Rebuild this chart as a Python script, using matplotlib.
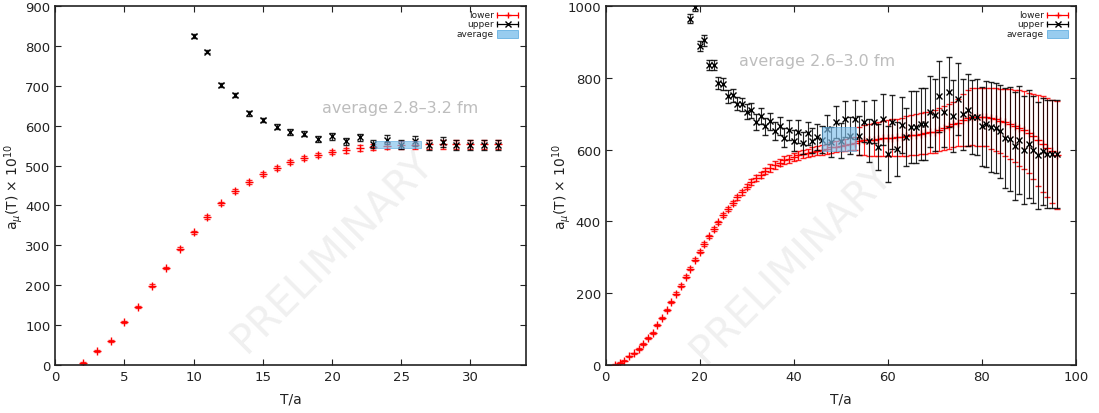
import numpy as np
import matplotlib.pyplot as plt
from matplotlib.patches import Rectangle

# ---- left panel: T/a = 2..32
T_lo_L = np.arange(2, 33)
lower_L = [5, 35, 60, 107, 146, 199, 243, 292, 333, 371, 405, 436, 459, 478, 493,
           508, 519, 527, 534, 538, 544, 547, 550, 552, 552, 553, 553, 553, 553, 553, 553]
lower_L_err = [2, 2, 3, 3, 3, 3, 3, 3, 4, 4, 4, 4, 4, 5, 5,
               5, 5, 5, 6, 6, 7, 8, 9, 10, 10, 11, 11, 12, 12, 12, 12]
T_up_L = np.arange(10, 33)
upper_L = [824, 786, 703, 676, 631, 614, 597, 584, 580, 567, 573, 561, 571,
           555, 565, 552, 561, 552, 559, 552, 552, 552, 552]
upper_L_err = [5, 5, 5, 5, 6, 6, 6, 7, 7, 8, 8, 9, 9,
               10, 11, 11, 12, 12, 13, 13, 13, 13, 13]
avg_L_T = [23.1, 26.4]
avg_L = 553
avg_L_err = 8

# ---- right panel: T/a = 2..96
T_lo_R = np.arange(2, 97)
lower_R = [0, 5, 12, 24, 32, 45, 58, 76, 90, 112, 131, 154, 175, 199, 221, 246, 268, 293, 316,
           337, 358, 379, 397, 417, 435, 452, 467, 481, 497, 509, 520, 530, 540, 549, 557, 564,
           570, 575, 580, 584, 588, 591, 594, 597, 600, 603, 606, 608, 611, 613, 615, 618,
           624, 626, 627, 628, 630, 631, 632, 633, 634, 636, 638, 640, 642, 644, 646, 648,
           650, 655, 660, 665, 670, 675, 682, 688, 692, 692, 691, 690, 687, 684, 680, 676,
           671, 666, 660, 654, 647, 637, 626, 615, 605, 595, 585]
lower_R_err = [2, 2, 2, 2, 2, 3, 3, 3, 3, 3, 3, 3, 3, 3, 4, 4, 4, 4, 4,
               5, 5, 5, 5, 6, 6, 6, 7, 7, 8, 8, 8, 9, 9, 10, 10, 10,
               11, 11, 11, 12, 12, 12, 13, 13, 14, 14, 15, 15, 16, 16, 17, 18,
               40, 42, 44, 46, 48, 50, 50, 51, 51, 53, 55, 56, 57, 57, 58, 58,
               59, 60, 61, 62, 63, 65, 72, 78, 80, 81, 81, 81, 84, 87, 90, 94,
               98, 101, 105, 108, 112, 119, 126, 133, 138, 144, 150]
T_up_R = np.arange(18, 97)
upper_R = [965, 997, 888, 904, 835, 836, 785, 783, 749, 751, 728, 726, 706, 709, 678, 693,
           665, 679, 653, 665, 633, 655, 625, 650, 618, 646, 625, 635, 628, 657, 622, 676,
           625, 686, 639, 684, 639, 678, 625, 678, 607, 684, 588, 678, 602, 669, 635, 663,
           663, 672, 672, 706, 697, 748, 704, 760, 693, 742, 698, 711, 691, 691, 665, 672,
           663, 661, 651, 632, 630, 610, 626, 598, 616, 600, 584, 595, 587, 587, 587]
upper_R_err = [12, 12, 14, 14, 14, 14, 16, 16, 18, 18, 18, 18, 20, 20, 22, 22,
               24, 24, 25, 25, 27, 27, 30, 32, 30, 32, 34, 35, 38, 40, 42, 45,
               48, 50, 52, 55, 55, 58, 60, 60, 65, 70, 77, 75, 75, 78, 80, 100,
               100, 100, 100, 100, 100, 100, 98, 98, 100, 100, 100, 100, 102, 105, 110, 120,
               125, 125, 130, 140, 145, 150, 150, 150, 150, 150, 150, 150, 150, 150, 150]
avg_R_T = [46.1, 53.2]
avg_R = 629
avg_R_err = 34

txt_col = '#222222'
plt.rcParams['font.family'] = 'DejaVu Sans'
plt.rcParams['axes.edgecolor'] = txt_col
plt.rcParams['xtick.color'] = txt_col
plt.rcParams['ytick.color'] = txt_col

fig = plt.figure(figsize=(10.99, 4.14), dpi=100)
axL = fig.add_axes([0.0503, 0.116, 0.428, 0.867])
axR = fig.add_axes([0.5511, 0.116, 0.4277, 0.867])


def panel(ax, Tl, lo, loe, Tu, up, upe, avgT, avg, avge, xmax, ymax, note, note_xy, wm_xy, ylab_x):
    ax.text(wm_xy[0], wm_xy[1], 'PRELIMINARY', fontsize=29, color='#f0f0f0', rotation=45,
            ha='center', va='center', zorder=0)
    ax.errorbar(Tl, lo, yerr=loe, fmt='+', color='red', ecolor=(1, 0, 0, 0.85), ms=5.5,
                mew=1.0, elinewidth=0.8, capsize=2.0, capthick=0.8, zorder=2)
    ax.errorbar(Tu, up, yerr=upe, fmt='x', color='black', ecolor=(0, 0, 0, 0.85), ms=4.5,
                mew=1.0, elinewidth=0.8, capsize=2.0, capthick=0.8, zorder=3)
    ax.fill_between(avgT, avg - avge, avg + avge, facecolor='#7fc0ec', alpha=0.65,
                    edgecolor='#4da3dc', linewidth=0.6, zorder=4)
    ax.text(note_xy[0], note_xy[1], note, fontsize=11.5, color='#bdbdbd', va='center', zorder=5)
    ax.set_xlim(0, xmax)
    ax.set_ylim(0, ymax)
    ax.set_xlabel('T/a', fontsize=10, color=txt_col, labelpad=6)
    ax.set_ylabel(r'a$_\mu$(T) $\times$ 10$^{10}$', fontsize=10, color=txt_col)
    ax.yaxis.set_label_coords(ylab_x, 0.5)
    ax.tick_params(direction='in', length=4, width=0.8, top=True, right=True, labelsize=9.5)
    for s in ax.spines.values():
        s.set_linewidth(1.2)

    # key in the top right corner
    tr = ax.transAxes
    rows = [0.976, 0.951, 0.923]
    x0, x1 = 0.939, 0.984
    for y, lab in zip(rows, ['lower', 'upper', 'average']):
        ax.text(0.932, y, lab, transform=tr, fontsize=6.5, ha='right', va='center', color=txt_col)
    for y, c, m in [(rows[0], 'red', '+'), (rows[1], 'black', 'x')]:
        ax.plot([x0, x1], [y, y], color=c, lw=0.9, transform=tr, clip_on=False)
        ax.plot([x0, x1], [y, y], ls='none', marker='|', ms=4, mew=0.9, color=c, transform=tr)
        ax.plot([(x0 + x1) / 2], [y], ls='none', marker=m, ms=5, mew=1.0, color=c, transform=tr)
    ax.add_patch(Rectangle((x0, rows[2] - 0.011), x1 - x0, 0.022, transform=tr,
                           facecolor='#7fc0ec', alpha=0.8, edgecolor='#4da3dc', lw=0.6))


panel(axL, T_lo_L, lower_L, lower_L_err, T_up_L, upper_L, upper_L_err,
      avg_L_T, avg_L, avg_L_err, 34, 900, 'average 2.8\u20133.2 fm', (19.3, 646), (20.0, 286), -0.064)
panel(axR, T_lo_R, lower_R, lower_R_err, T_up_R, upper_R, upper_R_err,
      avg_R_T, avg_R, avg_R_err, 100, 1000, 'average 2.6\u20133.0 fm', (28.4, 847), (39.5, 287), -0.070)
axL.set_xticks(range(0, 35, 5))
axL.set_yticks(range(0, 901, 100))
axR.set_xticks(range(0, 101, 20))
axR.set_yticks(range(0, 1001, 200))

fig.savefig('out.png', dpi=100)
